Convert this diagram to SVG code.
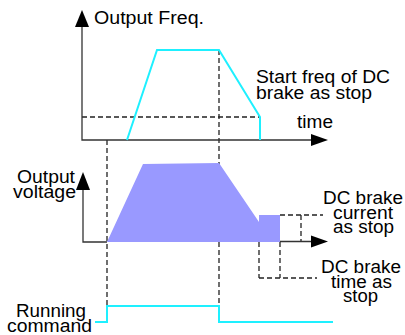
<svg xmlns="http://www.w3.org/2000/svg" width="405" height="335" viewBox="0 0 405 335">
<defs>
<style>
.ax{stroke:#333;stroke-width:1.3;fill:none}
.ah{fill:#000}
.cy{stroke:#1ef0ff;stroke-width:2;fill:none}
.ds{stroke:#222;stroke-width:1.3;fill:none;stroke-dasharray:5,3}
.t{font-family:"Liberation Sans",Arial,sans-serif;font-size:17.5px;fill:#000}
.m{text-anchor:middle}
</style>
</defs>
<rect width="405" height="335" fill="#fff"/>
<g id="connectors">
<path class="ds" d="M107 140V306M219 50V322M82 117H260"/>
<path class="ds" d="M280 215H323M301 215V242M259 242V278M280 242V278M259 278H317"/>
</g>
<g id="freq-chart">
<path class="ax" d="M82 26V140H312"/>
<polygon class="ah" points="82,10 75,27 89,27"/>
<polygon class="ah" points="328,140 311,134 311,146"/>
<polyline class="cy" points="127,140 157,50 219,50 260,117 260,140"/>
<text class="t" x="94" y="24" textLength="110" lengthAdjust="spacingAndGlyphs">Output Freq.</text>
<text class="t" x="256" y="83" textLength="134" lengthAdjust="spacingAndGlyphs">Start freq of DC</text>
<text class="t" x="256" y="99" textLength="116" lengthAdjust="spacingAndGlyphs">brake as stop</text>
<text class="t" x="297" y="128" textLength="36" lengthAdjust="spacingAndGlyphs">time</text>
</g>
<g id="voltage-chart">
<polygon fill="#9999ff" points="107,242 143,164 219,163 259,222 259,215 280,215 280,242"/>
<path class="ax" d="M83 188V242H107M280 241.5H313"/>
<polygon class="ah" points="83,172 76,190 90,190"/>
<polygon class="ah" points="328,241.5 311,235.5 311,247.5"/>
<text class="t m" x="46" y="183" textLength="58" lengthAdjust="spacingAndGlyphs">Output</text>
<text class="t m" x="44.5" y="198" textLength="63" lengthAdjust="spacingAndGlyphs">voltage</text>
<text class="t m" x="363" y="204" textLength="80" lengthAdjust="spacingAndGlyphs">DC brake</text>
<text class="t m" x="363" y="219" textLength="60" lengthAdjust="spacingAndGlyphs">current</text>
<text class="t m" x="363.5" y="233" textLength="61" lengthAdjust="spacingAndGlyphs">as stop</text>
<text class="t m" x="361" y="273" textLength="80" lengthAdjust="spacingAndGlyphs">DC brake</text>
<text class="t m" x="361.5" y="288" textLength="61" lengthAdjust="spacingAndGlyphs">time as</text>
<text class="t m" x="360.5" y="302" textLength="35" lengthAdjust="spacingAndGlyphs">stop</text>
</g>
<g id="running-command">
<polyline class="cy" points="95,322 107,322 107,306 219,306 219,322 333,322"/>
<text class="t m" x="51" y="317" textLength="70" lengthAdjust="spacingAndGlyphs">Running</text>
<text class="t m" x="49.5" y="332" textLength="85" lengthAdjust="spacingAndGlyphs">command</text>
</g>
</svg>
